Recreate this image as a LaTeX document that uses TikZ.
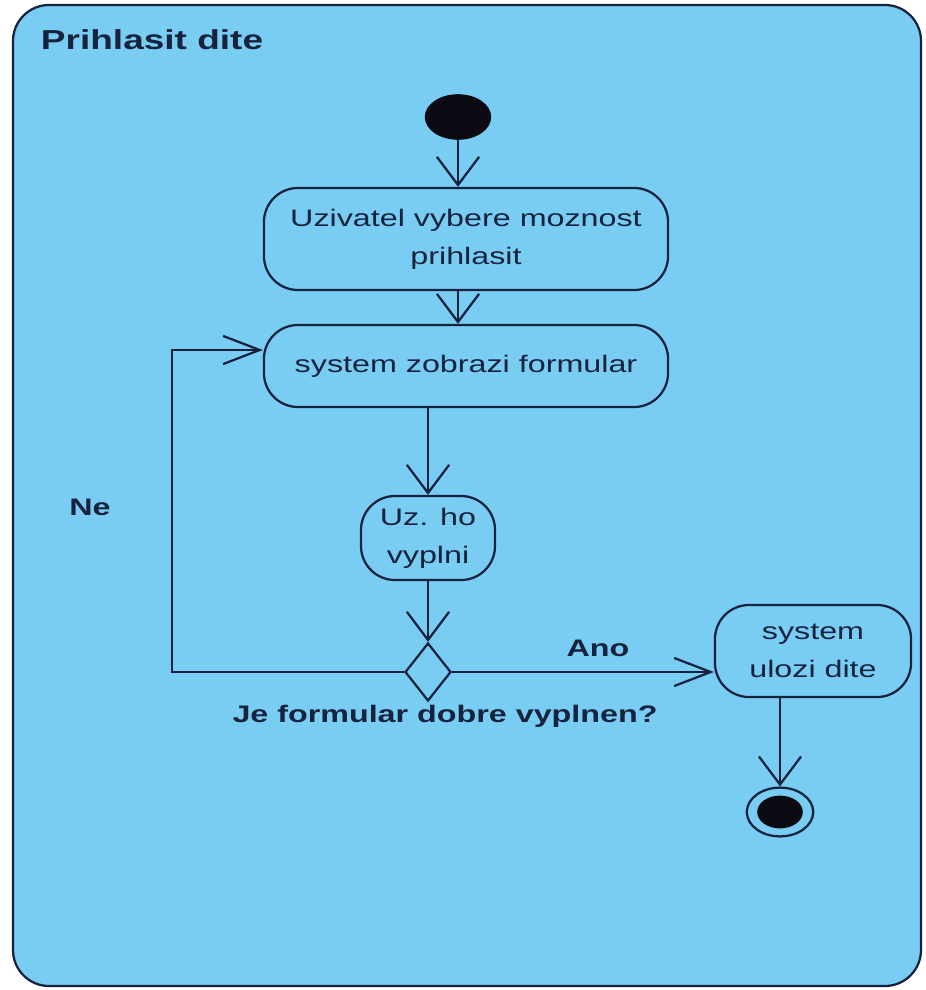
\documentclass[tikz,border=0pt]{standalone}
\usepackage{fontspec}
\setmainfont{Liberation Sans}[FakeStretch=1.35]
\usepackage{xcolor}
\usetikzlibrary{arrows.meta, shapes.geometric}

\definecolor{swimblue}{RGB}{121,205,242}
\definecolor{ink}{RGB}{22,34,62}
\definecolor{dot}{RGB}{12,10,18}

\tikzset{
    action/.style={draw=ink, line width=1.6pt, rounded corners=0.85cm, align=center,
        text=ink, inner sep=2pt},
    varrow/.style={draw=ink, line width=1.6pt, -{Straight Barb[length=20pt, width=30pt, line width=1.6pt]}},
    harrow/.style={draw=ink, line width=1.6pt, -{Straight Barb[length=26pt, width=20pt, line width=1.6pt]}},
    lbl/.style={text=ink, font=\fontsize{17}{27}\selectfont\bfseries}
}

\begin{document}
\begin{tikzpicture}[x=0.025cm, y=-0.025cm, font=\fontsize{17}{27}\selectfont]
    \useasboundingbox (0,0) rectangle (925,990);

    % Activity frame
    \draw[ink, line width=1.6pt, fill=swimblue, rounded corners=0.9cm] (13,5) rectangle (921,986);
    \node[lbl, anchor=west, font=\fontsize{19.5}{27}\selectfont\bfseries] (title) at (36,40) {Prihlasit dite};

    % Start and end
    \node[ellipse, fill=dot, minimum width=1.66cm, minimum height=1.14cm, inner sep=0pt] (start) at (458,117) {};
    \node[ellipse, draw=ink, line width=1.6pt, minimum width=1.66cm, minimum height=1.22cm, inner sep=0pt] (fin) at (780,812) {};
    \fill[dot] (fin.center) ellipse [x radius=0.57cm, y radius=0.41cm];

    % Actions
    \node[action, minimum width=10.1cm, minimum height=2.55cm] (choose) at (466,239)
        {Uzivatel vybere moznost\\prihlasit};
    \node[action, minimum width=10.1cm, minimum height=2.05cm] (form) at (466,366)
        {system zobrazi formular};
    \node[action, minimum width=3.35cm, minimum height=2.1cm] (fill) at (428,538)
        {Uz. ho\\vyplni};
    \node[action, minimum width=4.9cm, minimum height=2.3cm] (save) at (813,651)
        {system\\ulozi dite};

    % Decision
    \node[diamond, draw=ink, line width=1.6pt, minimum width=1.15cm, minimum height=1.45cm, inner sep=0pt] (check) at (428,672) {};
    \node[lbl] (question) at (445,716) {Je formular dobre vyplnen?};

    % Flows
    \draw[varrow] (start) -- (start |- choose.north);
    \draw[varrow] (choose.south -| start) -- (form.north -| start);
    \draw[varrow] (form.south -| fill) -- (fill.north);
    \draw[varrow] (fill.south) -- (check.north);

    \coordinate (back) at (172,350);
    \draw[harrow] (check.west) -| (back) -- (back -| form.west);
    \node[lbl] (no) at (90,507) {Ne};

    \draw[harrow] (check.east) -- (check -| save.west);
    \node[lbl] (yes) at (598,648) {Ano};

    \draw[varrow] (save.south -| fin) -- (fin.north);
\end{tikzpicture}
\end{document}
